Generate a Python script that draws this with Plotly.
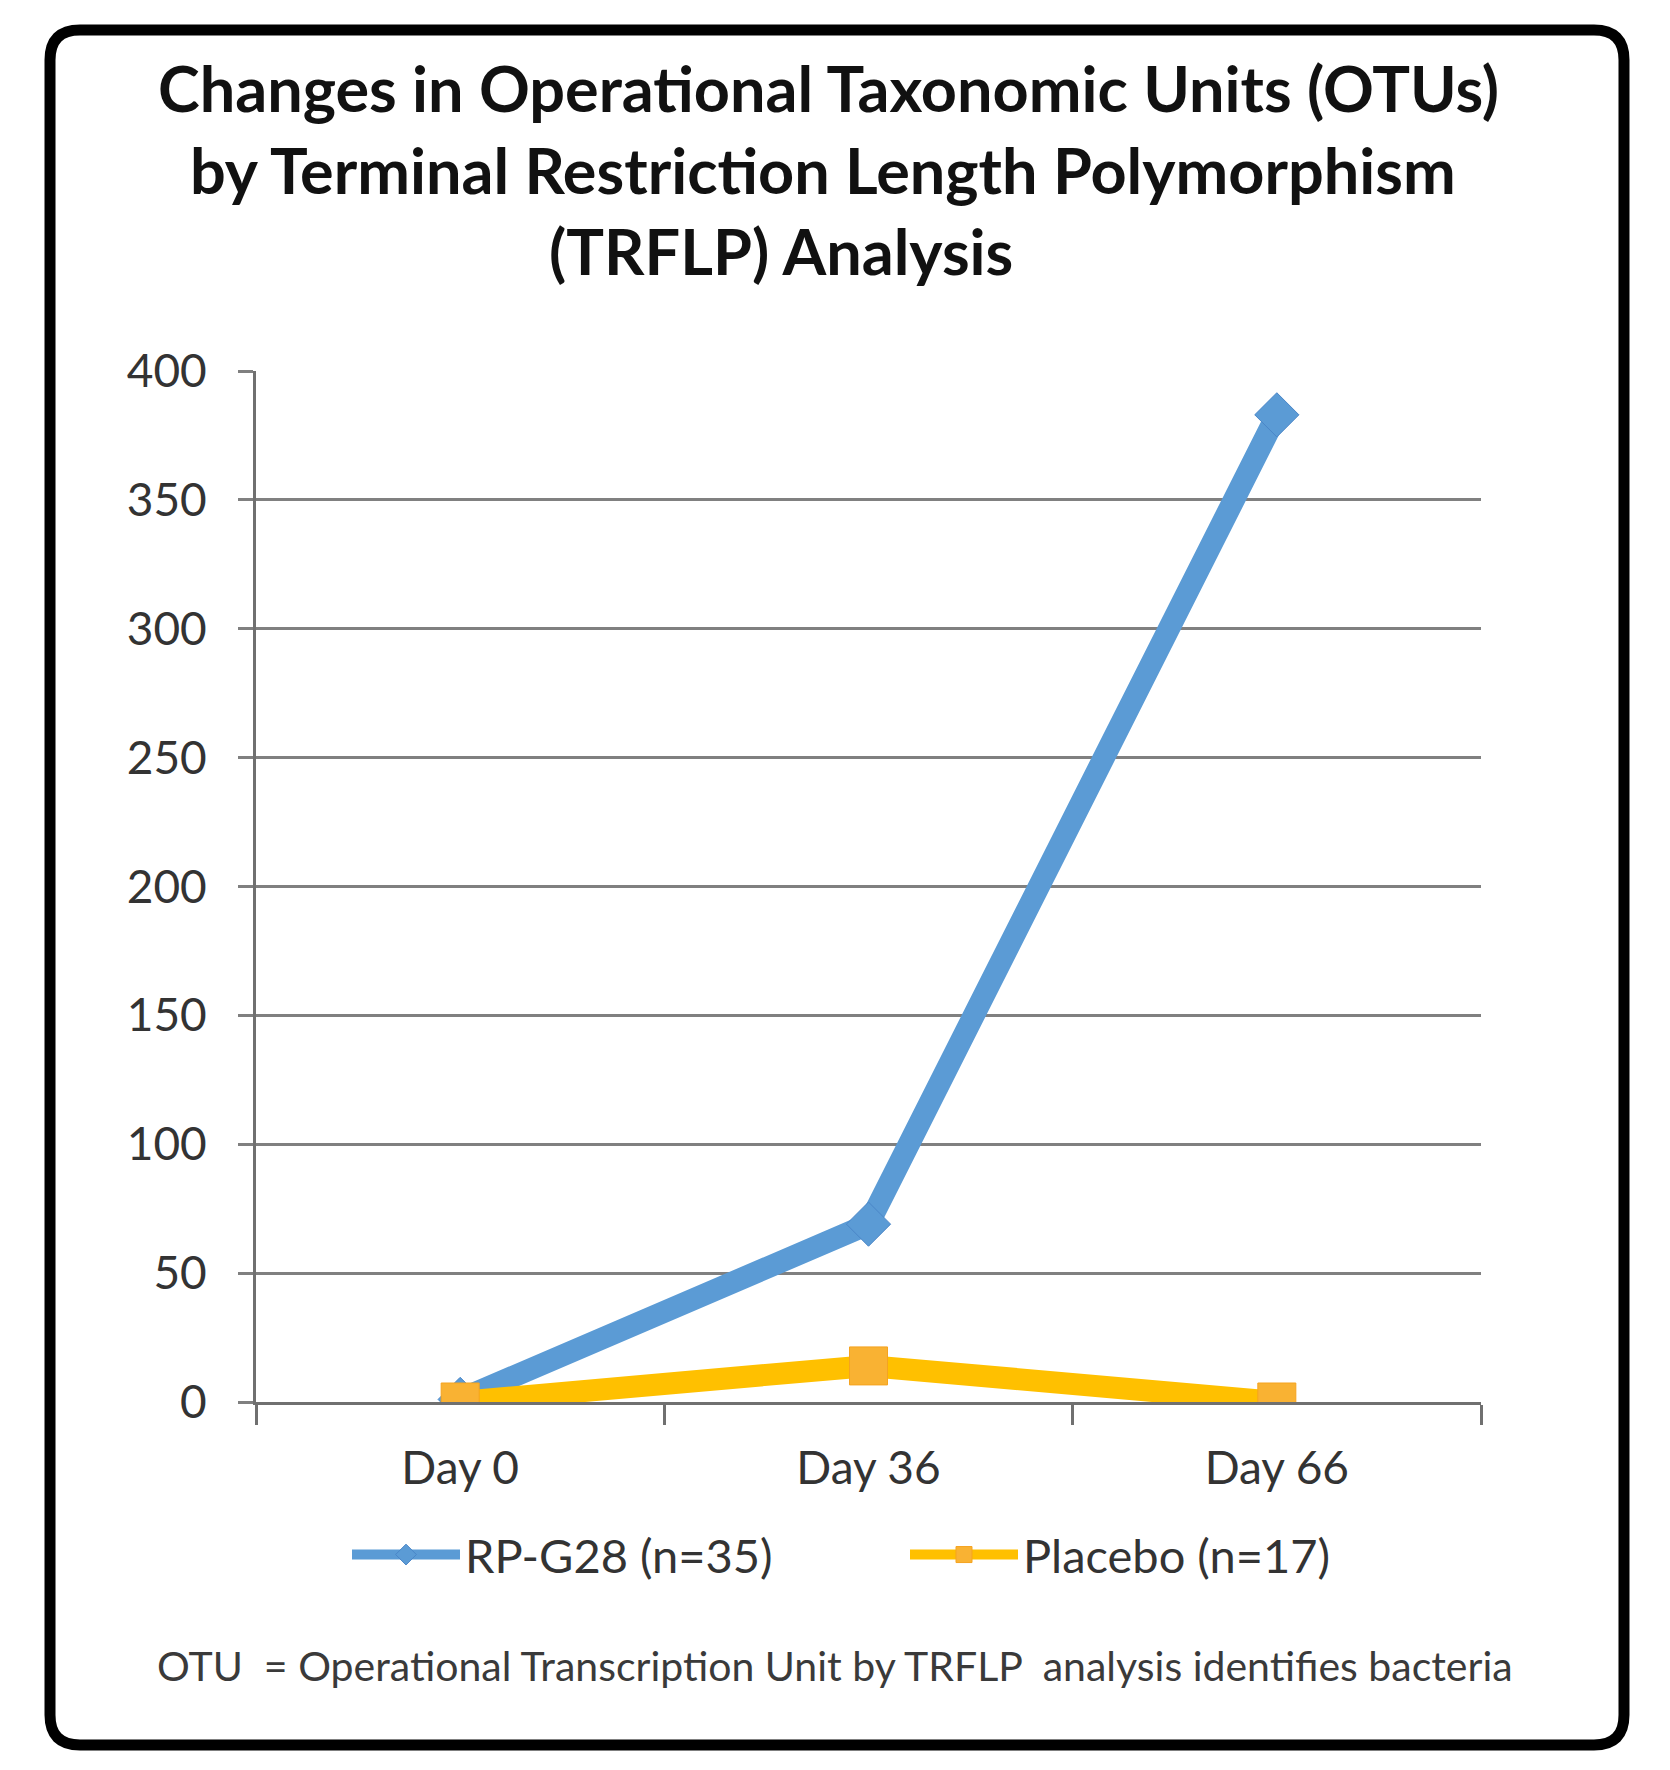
import plotly.graph_objects as go

categories = ["Day 0", "Day 36", "Day 66"]
rp_g28 = [1, 69, 383]
placebo = [0, 14, 0]
series_names = ["RP-G28 (n=35)", "Placebo (n=17)"]
title_lines = [
    "Changes in Operational Taxonomic Units (OTUs)",
    "by Terminal Restriction Length Polymorphism",
    "(TRFLP) Analysis",
]
footnote = "OTU  = Operational Transcription Unit by TRFLP  analysis identifies bacteria"
y_ticks = [0, 50, 100, 150, 200, 250, 300, 350, 400]

OFF = 8  # page body margin
W, H = 1670 - OFF, 1770 - OFF
L, T = 256 - OFF, 371 - OFF
R = W - (1481 - OFF)
B = H - (1402 - OFF)
PW, PH = W - L - R, H - T - B

def px(X):
    return (X - OFF - L) / PW

def py(Y):
    return (H - B - (Y - OFF)) / PH

fig = go.Figure()
fig.add_trace(go.Scatter(
    x=categories, y=rp_g28, name=series_names[0], mode="lines+markers",
    line=dict(color="#5B9BD5", width=22),
    marker=dict(symbol="diamond", size=34, color="#5B9BD5", line=dict(color="#4A86C8", width=1)),
))
fig.add_trace(go.Scatter(
    x=categories, y=placebo, name=series_names[1], mode="lines+markers",
    line=dict(color="#FFC000", width=22),
    marker=dict(symbol="square", size=38, color="#F9B233", line=dict(color="#F5A31F", width=1)),
))

font = "Lato, 'Open Sans', sans-serif"

annotations = []
for X, Y, line in zip([828, 823, 781], [88, 169, 250], title_lines):
    annotations.append(dict(
        text="<b>" + line + "</b>", xref="paper", yref="paper",
        x=px(X), y=py(Y), xanchor="center", yanchor="middle", showarrow=False,
        font=dict(family=font, size=63, color="#111111"),
    ))
annotations.append(dict(
    text=footnote, xref="paper", yref="paper", x=px(835), y=py(1665),
    xanchor="center", yanchor="middle", showarrow=False,
    font=dict(family=font, size=41, color="#3a3a3a"),
))

# rounded border (screen coordinates of the line centre)
x0, x1, y0, y1, r = 50, 1624, 30, 1745, 30
def P(X, Y):
    return f"{px(X):.5f},{py(Y):.5f}"
path = (f"M {P(x0 + r, y0)} L {P(x1 - r, y0)} Q {P(x1, y0)} {P(x1, y0 + r)} "
        f"L {P(x1, y1 - r)} Q {P(x1, y1)} {P(x1 - r, y1)} "
        f"L {P(x0 + r, y1)} Q {P(x0, y1)} {P(x0, y1 - r)} "
        f"L {P(x0, y0 + r)} Q {P(x0, y0)} {P(x0 + r, y0)} Z")

fig.update_layout(
    width=W, height=H,
    margin=dict(l=L, r=R, t=T, b=B),
    paper_bgcolor="white", plot_bgcolor="white",
    font=dict(family=font, color="#333333"),
    annotations=annotations,
    shapes=[dict(type="path", path=path, xref="paper", yref="paper",
                 line=dict(color="black", width=11), layer="above")],
    showlegend=True,
    legend=dict(orientation="h", x=px(347), y=py(1555), xanchor="left", yanchor="middle",
                font=dict(family=font, size=47, color="#333333"),
                itemwidth=108, entrywidth=435, entrywidthmode="pixels",
                bgcolor="rgba(0,0,0,0)"),
    xaxis=dict(
        type="category", range=[-0.5, 2.5], showline=True, linecolor="#707070", linewidth=3,
        ticks="outside", tickson="boundaries", ticklen=20, tickwidth=3, tickcolor="#707070",
        showgrid=False, tickfont=dict(family=font, size=46, color="#333333"),
        ticklabelstandoff=24,
    ),
    yaxis=dict(
        range=[0, 400], tickvals=y_ticks, showline=True, linecolor="#707070", linewidth=3,
        ticks="outside", ticklen=15, tickwidth=3, tickcolor="#808080",
        showgrid=True, gridcolor="#808080", gridwidth=3, zeroline=False,
        tickfont=dict(family=font, size=46, color="#333333"), ticklabelstandoff=22,
    ),
)

fig.write_html("out.html")
